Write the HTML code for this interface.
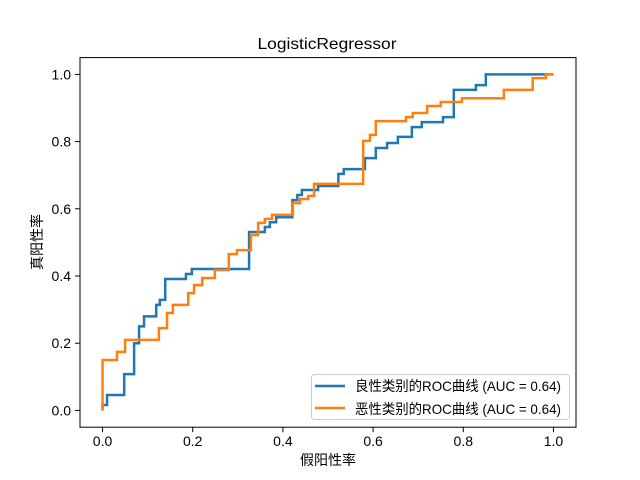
<!DOCTYPE html>
<html><head><meta charset="utf-8"><style>
html,body{margin:0;padding:0;background:#fff;}
svg{display:block;font-family:"Liberation Sans","Noto Sans CJK SC",sans-serif;}
</style></head><body>
<svg id="chart" width="640" height="480" viewBox="0 0 640 480">
<rect x="0" y="0" width="640" height="480" fill="#fff"/>
<text x="327" y="49" font-size="16" text-anchor="middle" textLength="139" lengthAdjust="spacingAndGlyphs">LogisticRegressor</text>
<g id="ticks"></g>
<g id="series"></g>
<rect x="80" y="57.6" width="496" height="369.6" fill="none" stroke="#000" stroke-width="1"/>
<text x="328" y="465" font-size="14" text-anchor="middle">假阳性率</text>
<text x="0" y="0" font-size="14" text-anchor="middle" transform="translate(42,242) rotate(-90)">真阳性率</text>
<g>
<rect x="311.5" y="374.5" width="258" height="45" rx="3" fill="#fff" fill-opacity="0.8" stroke="#ccc" stroke-width="1"/>
<line x1="315" y1="386" x2="345" y2="386" stroke="#1f77b4" stroke-width="2.5"/>
<text x="355" y="391" font-size="14" textLength="206" lengthAdjust="spacingAndGlyphs">良性类别的ROC曲线 (AUC = 0.64)</text>
<line x1="315" y1="408" x2="345" y2="408" stroke="#ff7f0e" stroke-width="2.5"/>
<text x="355" y="414" font-size="14" textLength="206" lengthAdjust="spacingAndGlyphs">恶性类别的ROC曲线 (AUC = 0.64)</text>
</g>
</svg>
<script>
const xTicks = [0, 0.2, 0.4, 0.6, 0.8, 1.0];
const yTicks = [0, 0.2, 0.4, 0.6, 0.8, 1.0];
const tickLabels = ["0.0", "0.2", "0.4", "0.6", "0.8", "1.0"];
const benignFpr = [0,0.01,0.048,0.07,0.081,0.092,0.119,0.127,0.139,0.185,0.198,0.325,0.36,0.371,0.385,0.421,0.432,0.442,0.478,0.523,0.535,0.582,0.606,0.631,0.655,0.686,0.708,0.755,0.779,0.828,0.85];
const benignTpr = [0.016,0.046,0.108,0.2,0.25,0.28,0.314,0.329,0.391,0.406,0.421,0.531,0.546,0.56,0.575,0.626,0.641,0.656,0.668,0.704,0.718,0.751,0.781,0.796,0.814,0.843,0.858,0.873,0.954,0.968,1.0];
const malignantFpr = [0,0.032,0.05,0.125,0.143,0.156,0.19,0.203,0.221,0.249,0.28,0.298,0.329,0.345,0.36,0.376,0.422,0.438,0.456,0.469,0.578,0.593,0.606,0.673,0.688,0.72,0.75,0.797,0.89,0.954,0.983];
const malignantTpr = [0.15,0.174,0.21,0.245,0.29,0.314,0.349,0.373,0.394,0.418,0.465,0.477,0.522,0.558,0.57,0.582,0.617,0.629,0.638,0.674,0.802,0.82,0.861,0.873,0.885,0.906,0.918,0.929,0.954,0.989,1.0];

const NS = "http://www.w3.org/2000/svg";
const L = 80, R = 576, T = 57.6, B = 427.2;
function sx(v){ return L + (v + 0.05) / 1.1 * (R - L); }
function sy(v){ return B - (v + 0.05) / 1.1 * (B - T); }

const tg = document.getElementById('ticks');
xTicks.forEach((v, i) => {
  const ln = document.createElementNS(NS, 'line');
  ln.setAttribute('x1', sx(v)); ln.setAttribute('x2', sx(v));
  ln.setAttribute('y1', B); ln.setAttribute('y2', B + 5);
  ln.setAttribute('stroke', '#000');
  
  
  tg.appendChild(ln);
  const t = document.createElementNS(NS, 'text');
  t.setAttribute('x', sx(v)); t.setAttribute('y', B + 19);
  t.setAttribute('font-size', '14'); t.setAttribute('text-anchor', 'middle');
  t.textContent = tickLabels[i];
  
  
  tg.appendChild(t);
});
yTicks.forEach((v, i) => {
  const ln = document.createElementNS(NS, 'line');
  ln.setAttribute('x1', L - 5); ln.setAttribute('x2', L);
  ln.setAttribute('y1', sy(v)); ln.setAttribute('y2', sy(v));
  ln.setAttribute('stroke', '#000');
  
  
  tg.appendChild(ln);
  const t = document.createElementNS(NS, 'text');
  t.setAttribute('x', L - 9); t.setAttribute('y', sy(v) + 5);
  t.setAttribute('font-size', '14'); t.setAttribute('text-anchor', 'end');
  t.textContent = tickLabels[i];
  
  
  tg.appendChild(t);
});

const sg = document.getElementById('series');
function drawSeries(fpr, tpr, color, name){
  let d = 'M' + sx(0) + ' ' + sy(0);
  let prev = 0;
  for (let i = 0; i < fpr.length; i++){
    d += ' L' + sx(fpr[i]) + ' ' + sy(prev);
    d += ' L' + sx(fpr[i]) + ' ' + sy(tpr[i]);
    prev = tpr[i];
  }
  d += ' L' + sx(1) + ' ' + sy(prev);
  const p = document.createElementNS(NS, 'path');
  p.setAttribute('d', d);
  p.setAttribute('fill', 'none');
  p.setAttribute('stroke', color);
  p.setAttribute('stroke-width', '2.5');
  p.setAttribute('stroke-linejoin', 'miter');
  
  
  sg.appendChild(p);
}
drawSeries(benignFpr, benignTpr, '#1f77b4', 'benign-roc-line');
drawSeries(malignantFpr, malignantTpr, '#ff7f0e', 'malignant-roc-line');
</script>
</body></html>
